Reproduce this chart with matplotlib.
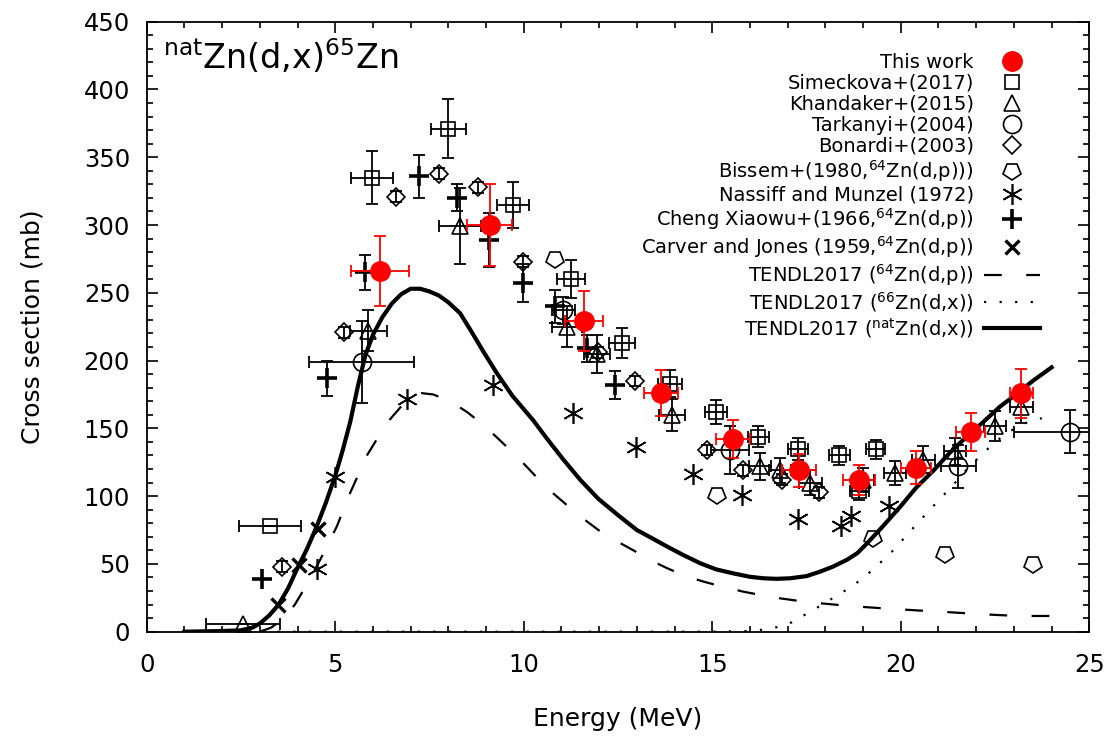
import matplotlib
matplotlib.use("Agg")
import matplotlib.pyplot as plt
from matplotlib.markers import MarkerStyle
from matplotlib.transforms import Affine2D
from matplotlib.ticker import MultipleLocator

plt.rcParams['font.family'] = ['DejaVu Sans']
plt.rcParams['mathtext.default'] = 'regular'

# --- data ---
this_E = [6.2, 9.1, 11.6, 13.65, 15.55, 17.3, 18.9, 20.4, 21.85, 23.2]
this_s = [266, 300, 229, 176, 142, 119, 112, 121, 147, 176]
this_dE = [0.77, 0.6, 0.5, 0.45, 0.45, 0.45, 0.42, 0.4, 0.38, 0.3]
this_ds = [26, 30, 22, 17, 14, 12, 11, 12, 14, 18]

sim_E = [3.28, 5.97, 8.0, 9.71, 11.25, 12.6, 13.88, 15.1, 16.22, 17.28, 18.37, 18.9, 19.34]
sim_s = [78, 335, 371, 315, 260, 213, 183, 162, 144, 135, 130, 104, 134.5]
sim_dE = [0.82, 0.55, 0.46, 0.43, 0.37, 0.35, 0.32, 0.3, 0.28, 0.27, 0.27, 0.26, 0.25]
sim_ds = [0, 19.5, 21.7, 17, 14, 11, 10, 9, 8, 8, 7, 7, 7]

kha_E = [2.55, 5.88, 8.31, 11.14, 11.95, 13.93, 16.27, 16.8, 17.6, 19.0, 19.85, 20.6, 21.44, 22.5, 23.2]
kha_s = [6, 222, 299, 225, 205, 160, 122, 119, 110, 112, 117, 127, 133, 152, 166]
kha_dE = [0.98, 0.5, 0.56, 0.4, 0.35, 0.35, 0.3, 0.3, 0.3, 0.3, 0.3, 0.3, 0.3, 0.3, 0.3]
kha_ds = [0, 15, 28, 15, 14, 12, 10, 9, 9, 9, 9, 10, 10, 11, 12]

tar_E = [5.7, 11.05, 15.47, 21.53, 24.49]
tar_s = [199, 237, 134, 122, 147.5]
tar_dE = [1.4, 0.3, 0.5, 0.47, 1.5]
tar_ds = [30, 10, 18, 16, 16]

bon_E = [3.58, 5.22, 6.6, 7.76, 8.8, 9.97, 11.98, 12.95, 14.85, 15.82, 16.84, 17.82]
bon_s = [48, 221, 321, 338, 328, 273, 206, 185, 134, 119, 112, 103]
bon_ds = [4, 4, 4, 4, 4, 4, 4, 4, 4, 4, 4, 4]

bis_E = [10.83, 15.12, 19.27, 21.17, 23.5]
bis_s = [275, 101, 69, 57, 50]

nas_E = [4.53, 4.99, 6.91, 9.19, 11.3, 12.98, 14.5, 15.8, 17.28, 18.41, 18.67, 19.7]
nas_s = [46, 114, 172, 182, 161, 136.5, 116, 101, 83, 78, 85, 93]

che_E = [3.05, 4.77, 5.79, 7.23, 8.22, 9.09, 9.97, 10.83, 11.67, 12.42]
che_s = [39, 187, 265, 336, 320, 289, 257, 240, 209, 182]
che_ds = [0, 13, 13, 16, 10, 20, 14, 12, 10, 10]

car_E = [3.49, 4.04, 4.55]
car_s = [20, 49, 75.5]

# TENDL2017 curves
nat_E = [1.0, 2.0, 2.5, 2.8, 3.0, 3.25, 3.5, 3.75, 4.0, 4.25, 4.5, 4.75, 5.0, 5.2, 5.4,
         5.6, 5.8, 6.0, 6.25, 6.5, 6.75, 7.0, 7.25, 7.5, 7.75, 8.0, 8.31, 8.6, 8.9, 9.28,
         9.7, 10.25, 10.6, 11.05, 11.5, 11.98, 12.5, 13.0, 13.4, 13.79, 14.2, 14.68,
         15.1, 15.56, 16.0, 16.36, 16.7, 17.06, 17.5, 17.86, 18.2, 18.57, 18.85, 19.1,
         19.5, 19.98, 20.4, 20.87, 21.3, 21.75, 22.2, 22.63, 23.1, 23.5, 24.0]
nat_s = [0, 0.5, 1, 3, 6, 12, 20, 32, 47, 61, 77, 95, 115, 134, 155,
         181, 204, 219, 232, 242, 249, 253, 253, 251, 248, 243, 235, 222, 208, 191,
         174, 156, 143, 127, 112, 98, 86, 75, 69, 63, 57, 50.5,
         46, 43, 40.5, 39.4, 39, 39.4, 41, 44.3, 48, 53, 58, 65,
         77, 92, 106, 119, 132, 144, 155, 166, 176, 185, 195]

p64_E = [3.0, 3.3, 3.6, 3.93, 4.25, 4.6, 5.04, 5.39, 5.84, 6.37, 6.9, 7.29, 7.6, 8.05,
         8.5, 8.93, 9.3, 9.64, 10.0, 10.34, 10.7, 11.14, 11.55, 11.98, 12.45, 12.91,
         13.35, 13.79, 14.25, 14.76, 15.3, 15.83, 16.3, 16.8, 17.3, 17.86, 18.4, 18.92,
         19.45, 19.98, 20.5, 21.04, 21.5, 22.02, 22.5, 22.99, 23.5, 23.96]
p64_s = [0, 3, 9, 20, 35, 53, 77.5, 102, 130, 154, 171, 176, 175, 170,
         162, 152.5, 143, 134, 124, 114, 104, 93.5, 84, 75, 67, 60,
         53, 47, 41.5, 37, 33, 29.5, 27, 24.6, 22.7, 21, 19.6, 18.4,
         17.4, 16.5, 15.6, 14.8, 14, 13.1, 12.4, 11.8, 11.6, 11.6]

x66_E = [1.0, 15.0, 16.0, 16.5, 16.98, 17.3, 17.68, 18.21, 18.74, 19.27, 19.8, 20.15,
         20.51, 21.04, 21.35, 21.66, 22.05, 22.46, 22.8, 23.08, 23.4, 23.74]
x66_s = [0, 0, 0.5, 2, 5, 10, 16, 25, 34, 46, 60, 71,
         82, 98, 107, 117, 128, 139, 146, 151, 155, 157.5]

fig = plt.figure(figsize=(11.17, 7.36), dpi=100)
ax = fig.add_axes([146.7 / 1117, 1 - 631.7 / 736, (1089.3 - 146.7) / 1117, (631.7 - 21.7) / 736])

eb = dict(fmt='none', ecolor='k', elinewidth=1.3, capsize=4, capthick=1.3, zorder=2)

# error bars
ax.errorbar(sim_E, sim_s, xerr=sim_dE, yerr=sim_ds, **eb)
ax.errorbar(kha_E, kha_s, xerr=kha_dE, yerr=kha_ds, **eb)
ax.errorbar(tar_E, tar_s, xerr=tar_dE, yerr=tar_ds, **eb)
ax.errorbar(bon_E, bon_s, yerr=bon_ds, **eb)
ax.errorbar(che_E, che_s, yerr=che_ds, **eb)

# curves
l64, = ax.plot(p64_E, p64_s, color='k', lw=1.6, dashes=(8, 11), zorder=3)
l66, = ax.plot(x66_E, x66_s, color='k', lw=1.6, dashes=(1, 6), zorder=3)
lnat, = ax.plot(nat_E, nat_s, color='k', lw=3, zorder=3)

mk = dict(ls='none', mfc='none', mec='k', mew=1.2, zorder=4)
pent = MarkerStyle('p', transform=Affine2D().rotate_deg(180))

h_sim, = ax.plot(sim_E, sim_s, marker='s', ms=10, **mk)
h_kha, = ax.plot(kha_E, kha_s, marker='^', ms=12, **mk)
h_tar, = ax.plot(tar_E, tar_s, marker='o', ms=13, **mk)
h_bon, = ax.plot(bon_E, bon_s, marker='D', ms=9, **mk)
h_bis, = ax.plot(bis_E, bis_s, marker=pent, ms=13, **mk)
h_nas, = ax.plot(nas_E, nas_s, ls='none', marker=(6, 2, 0), ms=15, mec='k', mew=1.2, zorder=4)
h_che, = ax.plot(che_E, che_s, ls='none', marker='+', ms=14, mec='k', mew=2.6, zorder=4)
h_car, = ax.plot(car_E, car_s, ls='none', marker='x', ms=10, mec='k', mew=2.4, zorder=4)

ax.errorbar(this_E, this_s, xerr=this_dE, yerr=this_ds, fmt='none', ecolor='red',
            elinewidth=1.3, capsize=4, capthick=1.3, zorder=5)
h_this, = ax.plot(this_E, this_s, ls='none', marker='o', ms=14, color='red', zorder=6)

handles = [h_this, h_sim, h_kha, h_tar, h_bon, h_bis, h_nas, h_che, h_car, l64, l66, lnat]
labels = ['This work', 'Simeckova+(2017)', 'Khandaker+(2015)', 'Tarkanyi+(2004)',
          'Bonardi+(2003)', r'Bissem+(1980,$^{64}$Zn(d,p)))', 'Nassiff and Munzel (1972)',
          r'Cheng Xiaowu+(1966,$^{64}$Zn(d,p))', r'Carver and Jones (1959,$^{64}$Zn(d,p))',
          r'TENDL2017 ($^{64}$Zn(d,p))', r'TENDL2017 ($^{66}$Zn(d,x))',
          r'TENDL2017 ($^{nat}$Zn(d,x))']
ax.legend(handles, labels, loc='upper right', bbox_to_anchor=(0.96, 0.968),
          markerfirst=False, frameon=False, fontsize=14, handlelength=2.9,
          labelspacing=0.1, handletextpad=0.5, borderaxespad=0.2)

ax.text(0.017, 0.975, r'$^{nat}$Zn(d,x)$^{65}$Zn', transform=ax.transAxes,
        fontsize=24, ha='left', va='top')

ax.set_xlim(0, 25)
ax.set_ylim(0, 450)
ax.xaxis.set_major_locator(MultipleLocator(5))
ax.xaxis.set_minor_locator(MultipleLocator(1))
ax.yaxis.set_major_locator(MultipleLocator(50))
ax.yaxis.set_minor_locator(MultipleLocator(10))
ax.tick_params(which='both', direction='in', top=True, right=True, labelsize=17.5, width=1.2)
ax.tick_params(which='major', length=8)
ax.tick_params(which='minor', length=4)
ax.tick_params(axis='x', which='major', pad=15)
ax.tick_params(axis='y', which='major', pad=12)
for s in ax.spines.values():
    s.set_linewidth(1.3)

ax.set_xlabel('Energy (MeV)', fontsize=18, labelpad=22)
ax.set_ylabel('Cross section (mb)', fontsize=18, labelpad=28)

fig.savefig('out.png', dpi=100)
